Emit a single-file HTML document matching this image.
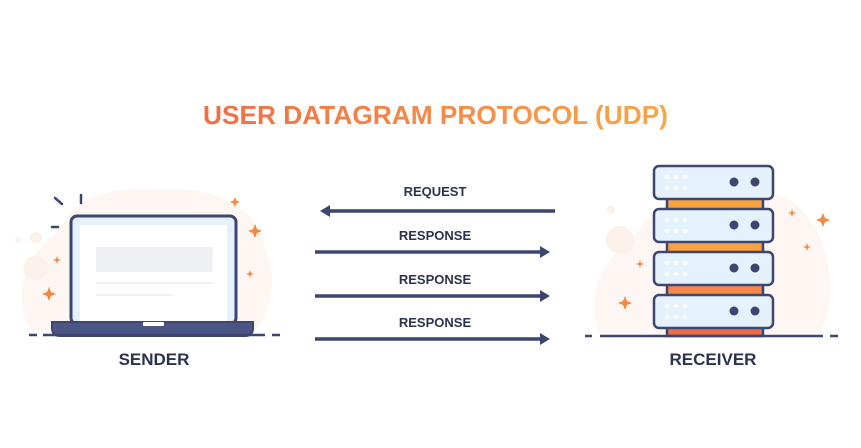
<!DOCTYPE html>
<html><head><meta charset="utf-8"><style>
html,body{margin:0;padding:0;background:#fff;width:861px;height:448px;overflow:hidden}
text{font-family:"Liberation Sans",sans-serif;font-weight:bold}
</style></head><body>
<svg width="861" height="448" viewBox="0 0 861 448" xmlns="http://www.w3.org/2000/svg">
<defs>
<linearGradient id="tg" x1="0" x2="1"><stop offset="0" stop-color="#f26d45"/><stop offset="1" stop-color="#f9a64a"/></linearGradient>
<marker id="ah" markerWidth="12" markerHeight="12" refX="7" refY="6" orient="auto" markerUnits="userSpaceOnUse"><path d="M0,0 L10,6 L0,12 Z" fill="#3d4670"/></marker>
<g id="dots" fill="#fff"><circle cx="0" cy="0" r="2"/><circle cx="9" cy="0" r="2"/><circle cx="18" cy="0" r="2"/><circle cx="0" cy="11" r="2"/><circle cx="9" cy="11" r="2"/><circle cx="18" cy="11" r="2"/></g>
</defs>
<text x="203" y="124" font-size="26" fill="url(#tg)" textLength="465" lengthAdjust="spacingAndGlyphs">USER DATAGRAM PROTOCOL (UDP)</text>
<path d="M30,330 C10,290 30,250 60,230 C70,200 110,185 160,190 C220,185 260,210 265,250 C280,280 270,320 250,335 Z" fill="#fdf6f2"/>
<circle cx="35" cy="268" r="12" fill="#fdf1eb"/><circle cx="36" cy="238" r="6" fill="#fdf1eb"/><circle cx="18" cy="240" r="3" fill="#fdf1eb"/>
<path d="M600,335 C585,300 600,260 640,230 C660,190 740,180 790,200 C830,230 840,290 820,335 Z" fill="#fdf6f2"/>
<circle cx="620" cy="240" r="14" fill="#fdf1eb"/><circle cx="611" cy="210" r="4" fill="#fdf1eb"/>
<line x1="55" y1="198" x2="62" y2="204" stroke="#3d4670" stroke-width="2.5" stroke-linecap="round"/>
<line x1="81" y1="195" x2="81" y2="203" stroke="#3d4670" stroke-width="2.5" stroke-linecap="round"/>
<line x1="52" y1="227" x2="58" y2="227" stroke="#3d4670" stroke-width="2.5" stroke-linecap="round"/>
<rect x="71" y="216" width="165" height="108" rx="6" fill="#e5f1fc" stroke="#3d4670" stroke-width="3"/>
<rect x="80" y="225" width="147" height="97" fill="#fff"/>
<rect x="96" y="247" width="117" height="25" fill="#eef0f4"/>
<rect x="96" y="282" width="117" height="2" fill="#eef0f4"/>
<rect x="96" y="294" width="77" height="2" fill="#eef0f4"/>
<path d="M52,322 H253 V328 Q253,336 245,336 H60 Q52,336 52,328 Z" fill="#4b5687" stroke="#3d4670" stroke-width="2"/>
<rect x="143" y="322" width="21" height="4" rx="1" fill="#fff"/>
<line x1="29" y1="335" x2="37" y2="335" stroke="#3d4670" stroke-width="2.5"/>
<line x1="43" y1="335" x2="265" y2="335" stroke="#3d4670" stroke-width="2.5"/>
<line x1="272" y1="335" x2="280" y2="335" stroke="#3d4670" stroke-width="2.5"/>
<g fill="#f5893f">
<path d="M235,197 l1.5,3.5 3.5,1.5 -3.5,1.5 -1.5,3.5 -1.5,-3.5 -3.5,-1.5 3.5,-1.5z"/>
<path d="M255,224 l2,5 5,2 -5,2 -2,5 -2,-5 -5,-2 5,-2z"/>
<path d="M250,270 l1,3 3,1 -3,1 -1,3 -1,-3 -3,-1 3,-1z"/>
<path d="M57,256 l1,3 3,1 -3,1 -1,3 -1,-3 -3,-1 3,-1z"/>
<path d="M49,287 l2,5 5,2 -5,2 -2,5 -2,-5 -5,-2 5,-2z"/>
</g>
<g stroke="#3d4670" stroke-width="2.5">
<rect x="667" y="198" width="96" height="12" fill="#f9a23e"/>
<rect x="667" y="241" width="96" height="12" fill="#f9a23e"/>
<rect x="667" y="284" width="96" height="12" fill="#f8874a"/>
<rect x="667" y="326" width="96" height="10" fill="#f26d45"/>
<rect x="654" y="166" width="119" height="33" rx="5" fill="#e5f1fc"/>
<rect x="654" y="209" width="119" height="33" rx="5" fill="#e5f1fc"/>
<rect x="654" y="252" width="119" height="33" rx="5" fill="#e5f1fc"/>
<rect x="654" y="295" width="119" height="33" rx="5" fill="#e5f1fc"/>
</g>
<g fill="#3d4670">
<circle cx="734" cy="182" r="4.5"/><circle cx="755" cy="182" r="4.5"/>
<circle cx="734" cy="225" r="4.5"/><circle cx="755" cy="225" r="4.5"/>
<circle cx="734" cy="268" r="4.5"/><circle cx="755" cy="268" r="4.5"/>
<circle cx="734" cy="311" r="4.5"/><circle cx="755" cy="311" r="4.5"/>
</g>
<use href="#dots" x="667" y="177"/><use href="#dots" x="667" y="220"/><use href="#dots" x="667" y="263"/><use href="#dots" x="667" y="306"/>
<line x1="585" y1="336" x2="592" y2="336" stroke="#3d4670" stroke-width="2.5"/>
<line x1="600" y1="336" x2="823" y2="336" stroke="#3d4670" stroke-width="2.5"/>
<line x1="830" y1="336" x2="838" y2="336" stroke="#3d4670" stroke-width="2.5"/>
<g fill="#f5893f">
<path d="M792,209 l1,3 3,1 -3,1 -1,3 -1,-3 -3,-1 3,-1z"/>
<path d="M823,213 l2,5 5,2 -5,2 -2,5 -2,-5 -5,-2 5,-2z"/>
<path d="M807,243 l1,3 3,1 -3,1 -1,3 -1,-3 -3,-1 3,-1z"/>
<path d="M640,260 l1,3 3,1 -3,1 -1,3 -1,-3 -3,-1 3,-1z"/>
<path d="M625,296 l2,5 5,2 -5,2 -2,5 -2,-5 -5,-2 5,-2z"/>
</g>
<g stroke="#3d4670" stroke-width="3.5">
<line x1="555" y1="211" x2="323" y2="211" marker-end="url(#ah)"/>
<line x1="315" y1="252" x2="547" y2="252" marker-end="url(#ah)"/>
<line x1="315" y1="296" x2="547" y2="296" marker-end="url(#ah)"/>
<line x1="315" y1="339" x2="547" y2="339" marker-end="url(#ah)"/>
</g>
<g fill="#2b3350" font-size="13" text-anchor="middle">
<text x="435" y="196">REQUEST</text>
<text x="435" y="240">RESPONSE</text>
<text x="435" y="284">RESPONSE</text>
<text x="435" y="327">RESPONSE</text>
</g>
<text x="154" y="365" font-size="17" fill="#2b3350" text-anchor="middle">SENDER</text>
<text x="713" y="365" font-size="17" fill="#2b3350" text-anchor="middle">RECEIVER</text>
</svg>
</body></html>
